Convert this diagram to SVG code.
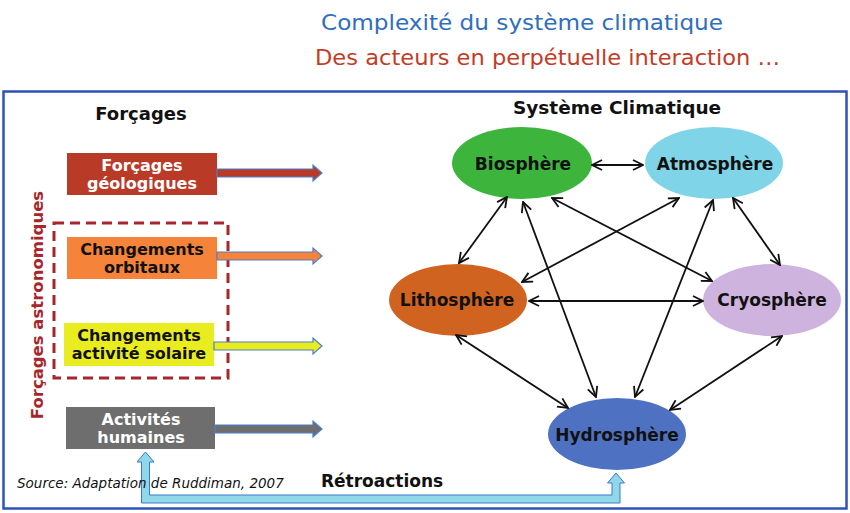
<svg xmlns="http://www.w3.org/2000/svg" width="850" height="513" viewBox="0 0 850 513">
<defs>
<marker id="ah" viewBox="0 0 12 12" refX="11" refY="6" markerWidth="12" markerHeight="12" markerUnits="userSpaceOnUse" orient="auto-start-reverse">
<path d="M1,1 L11,6 L1,11" fill="none" stroke="#111" stroke-width="1.8"/>
</marker>
<style>
.t{font-family:"DejaVu Sans","Liberation Sans",sans-serif}
.b{font-weight:bold}
.box{stroke:none}
.blk{stroke:#4a7fd0;stroke-width:1.2}
.ell text{font-family:"DejaVu Sans","Liberation Sans",sans-serif;font-weight:bold;font-size:17px;fill:#111;text-anchor:middle}
.lbl{font-family:"DejaVu Sans","Liberation Sans",sans-serif;font-weight:bold;font-size:16px;text-anchor:middle}
.con line{stroke:#111;stroke-width:1.8;marker-start:url(#ah);marker-end:url(#ah)}
</style>
</defs>
<rect width="850" height="513" fill="#fff"/>
<text class="t" x="321" y="30" font-size="22" fill="#2f6ebf" textLength="402" lengthAdjust="spacingAndGlyphs">Complexité du système climatique</text>
<text class="t" x="315" y="65" font-size="22" fill="#c33c25" textLength="465" lengthAdjust="spacingAndGlyphs">Des acteurs en perpétuelle interaction …</text>
<rect x="3.5" y="91.5" width="843" height="417" fill="none" stroke="#2f52b8" stroke-width="2.5"/>
<text class="t b" x="141" y="120" font-size="18" fill="#111" text-anchor="middle">Forçages</text>
<text class="t b" x="617" y="114" font-size="18.5" fill="#111" text-anchor="middle">Système Climatique</text>

<g id="geologiques">
<rect class="box" x="67" y="153" width="150" height="42" fill="#b93b27"/>
<polygon class="blk" points="217,169 313,169 313,165 322,173 313,181 313,177 217,177" fill="#b93b27"/>
<text class="lbl" x="142" y="171" fill="#fff">Forçages</text>
<text class="lbl" x="142" y="189" fill="#fff">géologiques</text>
</g>
<g id="astronomiques">
<rect x="54" y="223" width="174" height="155" fill="none" stroke="#a8262b" stroke-width="3" stroke-dasharray="10,6"/>
<text class="t b" transform="translate(43,305) rotate(-90)" font-size="16.5" fill="#a8262b" text-anchor="middle">Forçages astronomiques</text>
</g>
<g id="orbitaux">
<rect class="box" x="67" y="237" width="150" height="42" fill="#f5843a"/>
<polygon class="blk" points="217,252 313,252 313,248 322,256 313,264 313,260 217,260" fill="#f5843a"/>
<text class="lbl" x="142" y="255" fill="#111">Changements</text>
<text class="lbl" x="142" y="273" fill="#111">orbitaux</text>
</g>
<g id="solaire">
<rect class="box" x="64" y="323" width="150" height="43" fill="#e9ec1e"/>
<polygon class="blk" points="214,342 313,342 313,338 322,346 313,354 313,350 214,350" fill="#e9ec1e"/>
<text class="lbl" x="139" y="341" fill="#111">Changements</text>
<text class="lbl" x="139" y="359" fill="#111">activité solaire</text>
</g>
<g id="humaines">
<rect class="box" x="66" y="407" width="149" height="42" fill="#6e6e6e"/>
<polygon class="blk" points="215,425 313,425 313,421 322,429 313,437 313,433 215,433" fill="#6e6e6e"/>
<text class="lbl" x="141" y="425" fill="#fff">Activités</text>
<text class="lbl" x="141" y="443" fill="#fff">humaines</text>
</g>

<g id="retroactions">
<polygon points="145.5,452 154,462 149.5,462 149.5,495 612,495 612,483 607.5,483 616,473 624.5,483 620,483 620,503 141.5,503 141.5,462 137,462" fill="#8ed8ea" stroke="#3f78c8" stroke-width="1"/>
<text class="t b" x="382" y="487" font-size="17" fill="#111" text-anchor="middle">Rétroactions</text>
</g>

<text class="t" x="17" y="488" font-size="13.5" font-style="italic" fill="#111">Source: Adaptation de Ruddiman, 2007</text>

<g id="biosphere" class="ell">
<ellipse cx="522" cy="163" rx="70" ry="36" fill="#3db53d"/>
<text x="523" y="170">Biosphère</text>
</g>
<g id="atmosphere" class="ell">
<ellipse cx="714" cy="163" rx="69" ry="36" fill="#7fd4e7"/>
<text x="715" y="170">Atmosphère</text>
</g>
<g id="lithosphere" class="ell">
<ellipse cx="458" cy="300" rx="69" ry="36" fill="#d0631f"/>
<text x="457" y="306">Lithosphère</text>
</g>
<g id="cryosphere" class="ell">
<ellipse cx="772" cy="300" rx="69" ry="36" fill="#cfb3df"/>
<text x="772" y="306">Cryosphère</text>
</g>
<g id="hydrosphere" class="ell">
<ellipse cx="617" cy="434" rx="69" ry="36" fill="#4f71c2"/>
<text x="617" y="441">Hydrosphère</text>
</g>

<g id="connectors" class="con">
<line x1="592" y1="165" x2="643" y2="165"/>
<line x1="507" y1="197" x2="459" y2="263"/>
<line x1="523" y1="202" x2="596" y2="397"/>
<line x1="552" y1="198" x2="712" y2="281"/>
<line x1="679" y1="198" x2="522" y2="282"/>
<line x1="713" y1="200" x2="635" y2="397"/>
<line x1="733" y1="198" x2="780" y2="265"/>
<line x1="529" y1="301" x2="703" y2="301"/>
<line x1="456" y1="335" x2="568" y2="408"/>
<line x1="782" y1="336" x2="670" y2="410"/>
</g>
</svg>
